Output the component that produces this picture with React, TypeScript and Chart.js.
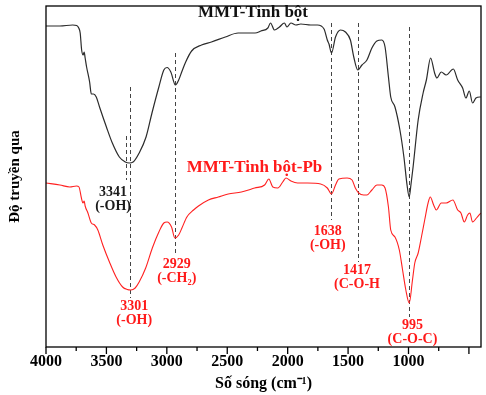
import React, { useEffect, useRef } from "react";
import { Chart, registerables } from "chart.js";

Chart.register(...registerables);

// ---------- DATA (wavenumber cm^-1, transmittance a.u.) ----------
const BLACK_WN = [4000, 3885, 3779, 3746, 3729, 3717, 3705, 3693, 3684, 3676, 3664, 3639, 3625, 3607, 3584, 3557, 3500, 3451, 3393, 3344, 3311, 3279, 3229, 3172, 3123, 3066, 3025, 2998, 2967, 2929, 2902, 2877, 2844, 2795, 2713, 2631, 2516, 2410, 2352, 2270, 2221, 2164, 2142, 2109, 2068, 2027, 2006, 1973, 1932, 1891, 1809, 1754, 1699, 1672, 1658, 1637, 1604, 1563, 1522, 1481, 1453, 1420, 1385, 1344, 1303, 1262, 1221, 1194, 1166, 1147, 1112, 1071, 1038, 1012, 994, 980, 962, 920, 879, 852, 817, 784, 765, 729, 688, 629, 593, 552, 525, 497, 470, 442, 410, 402];
const BLACK_T = [321, 321, 322, 321.5, 319, 314, 297, 292, 295, 289, 280, 265, 253, 253, 250, 240, 220, 204, 190, 185, 184, 185, 194, 210, 234, 260, 277, 279.5, 275, 262, 267, 275, 285, 296, 302, 305, 310, 314, 314, 314, 316, 319, 324, 317, 320, 324, 320, 324, 322, 323, 322, 322, 318, 307, 303, 294, 310, 317, 315, 307, 290, 277, 282, 287, 299, 306, 307, 300, 270, 250, 240, 217, 190, 162, 150, 162, 180, 227, 254, 267, 289, 274, 269, 275, 272, 278, 267, 259, 249, 256, 244, 249, 250, 250];

const RED_WN = [4000, 3885, 3803, 3748, 3727, 3707, 3694, 3684, 3676, 3653, 3625, 3598, 3571, 3530, 3475, 3420, 3366, 3328, 3298, 3262, 3229, 3175, 3120, 3066, 3025, 2998, 2961, 2934, 2902, 2875, 2834, 2779, 2738, 2656, 2574, 2492, 2383, 2273, 2191, 2156, 2123, 2082, 2041, 2014, 1973, 1918, 1836, 1727, 1672, 1637, 1604, 1576, 1508, 1467, 1440, 1412, 1371, 1344, 1303, 1262, 1221, 1194, 1166, 1147, 1112, 1076, 1049, 1022, 994, 967, 948, 920, 893, 866, 838, 820, 792, 770, 729, 688, 633, 593, 566, 538, 511, 492, 470, 437, 402];
const RED_T = [164, 162, 160, 161, 160, 149, 144, 146, 141, 134, 124, 122, 117, 102, 85, 70, 60, 57.5, 57, 59, 65, 79, 99, 115, 124, 125, 120, 109, 112, 119, 130, 137, 141, 147, 150, 153, 155, 159, 162, 168, 160, 159, 165, 169, 166, 164, 164, 163, 159, 153, 162, 168, 169, 167, 159, 154, 152, 152, 157, 162, 162, 159, 140, 117, 110, 97, 77, 57, 44, 67, 84, 94, 110, 127, 144, 150, 142, 137, 144, 144, 147, 137, 134, 125, 132, 134, 125, 129, 134];

const SERIES_NAMES = ["MMT-Tinh bột", "MMT-Tinh bột-Pb"];
const SERIES_COLORS = ["#2b2b2b", "#ff2020"];
const SERIES_LABEL_WN = [2287, 2275];
const SERIES_LABEL_T = [334.5, 179.5];

// Peak marker lines
const PEAK_WN = [3341, 3301, 2929, 1638, 1417, 995];
const PEAK_TOP = [211, 260, 294, 324, 324, 320];
const PEAK_BOTTOM = [167, 49, 91, 127, 85, 30];

// Peak annotations
const PEAK_TEXT = [
  ["3341", "(-OH)"],
  ["3301", "(-OH)"],
  ["2929", "(-CH₂)"],
  ["1638", "(-OH)"],
  ["1417", "(C-O-H"],
  ["995", "(C-O-C)"],
];
const PEAK_TEXT_WN = [3445, 3270, 2918, 1668, 1426, 967];
const PEAK_TEXT_T = [155, 41, 83, 116, 77, 22];
const PEAK_TEXT_COLOR = ["#1a1a1a", "#ff1a1a", "#ff1a1a", "#ff1a1a", "#ff1a1a", "#ff1a1a"];

const X_MIN = 400;
const X_MAX = 4000;
const Y_MIN = 0;
const Y_MAX = 341;

const X_TITLE = "Số sóng (cm⁻¹)";
const Y_TITLE = "Độ truyền qua";

const SERIF = "'Liberation Serif', 'Times New Roman', serif";

const annotPlugin = {
  id: "ftirAnnot",
  beforeDatasetsDraw(chart: any) {
    const { ctx, scales } = chart;
    const x = scales.x;
    const y = scales.y;
    ctx.save();
    ctx.setLineDash([4, 3]);
    ctx.strokeStyle = "#444";
    ctx.lineWidth = 1;
    PEAK_WN.forEach((wn, i) => {
      const px = Math.round(x.getPixelForValue(wn)) + 0.5;
      ctx.beginPath();
      ctx.moveTo(px, y.getPixelForValue(PEAK_TOP[i]));
      ctx.lineTo(px, y.getPixelForValue(PEAK_BOTTOM[i]));
      ctx.stroke();
    });
    ctx.restore();
  },
  afterDatasetsDraw(chart: any) {
    const { ctx, scales, chartArea } = chart;
    const x = scales.x;
    const y = scales.y;
    ctx.save();
    // frame
    ctx.strokeStyle = "#000";
    ctx.lineWidth = 1.3;
    ctx.strokeRect(chartArea.left, chartArea.top, chartArea.right - chartArea.left, chartArea.bottom - chartArea.top);
    // x tick marks (outside)
    ctx.lineWidth = 1.3;
    for (let v = 500; v <= X_MAX; v += 250) {
      const px = x.getPixelForValue(v);
      const len = v % 500 === 0 ? 7 : 4;
      ctx.beginPath();
      ctx.moveTo(px, chartArea.bottom);
      ctx.lineTo(px, chartArea.bottom + len);
      ctx.stroke();
    }
    // series names
    ctx.textAlign = "center";
    ctx.textBaseline = "middle";
    ctx.font = `bold 17px ${SERIF}`;
    SERIES_NAMES.forEach((name, i) => {
      ctx.fillStyle = i === 0 ? "#111" : "#ff1a1a";
      ctx.fillText(name, x.getPixelForValue(SERIES_LABEL_WN[i]), y.getPixelForValue(SERIES_LABEL_T[i]));
    });
    // peak labels
    ctx.font = `bold 14px ${SERIF}`;
    PEAK_TEXT.forEach((lines, i) => {
      ctx.fillStyle = PEAK_TEXT_COLOR[i];
      const cx = x.getPixelForValue(PEAK_TEXT_WN[i]);
      const cy = y.getPixelForValue(PEAK_TEXT_T[i]);
      lines.forEach((t, j) => ctx.fillText(t, cx, cy + j * 14.5));
    });
    ctx.restore();
  },
};

export default function App() {
  const ref = useRef<HTMLCanvasElement>(null);
  useEffect(() => {
    if (!ref.current) return;
    const chart = new Chart(ref.current, {
      type: "line",
      data: {
        datasets: [
          {
            label: SERIES_NAMES[0],
            data: BLACK_WN.map((w, i) => ({ x: w, y: BLACK_T[i] })),
            borderColor: SERIES_COLORS[0],
            borderWidth: 1.2,
            pointRadius: 0,
            cubicInterpolationMode: "monotone",
          },
          {
            label: SERIES_NAMES[1],
            data: RED_WN.map((w, i) => ({ x: w, y: RED_T[i] })),
            borderColor: SERIES_COLORS[1],
            borderWidth: 1.1,
            pointRadius: 0,
            cubicInterpolationMode: "monotone",
          },
        ],
      },
      options: {
        responsive: false,
        animation: false,
        layout: { padding: { top: 6, right: 1, left: 0, bottom: 0 } },
        plugins: { legend: { display: false }, tooltip: { enabled: false } },
        scales: {
          x: {
            type: "linear",
            reverse: true,
            min: X_MIN,
            max: X_MAX,
            grid: { display: false, drawTicks: false },
            border: { display: false },
            ticks: {
              stepSize: 250,
              autoSkip: false,
              maxRotation: 0,
              padding: 5,
              color: "#000",
              font: { family: SERIF, size: 16, weight: "bold" },
              callback: (v: any) => (Number(v) % 500 === 0 ? String(v) : ""),
            },
            title: {
              display: true,
              text: X_TITLE,
              color: "#000",
              padding: { top: 0, bottom: 2 },
              font: { family: SERIF, size: 16, weight: "bold" },
            },
            afterFit: (s: any) => {
              s.height = 48;
            },
          },
          y: {
            type: "linear",
            min: Y_MIN,
            max: Y_MAX,
            grid: { display: false, drawTicks: false },
            border: { display: false },
            ticks: { display: false },
            title: {
              display: true,
              text: Y_TITLE,
              color: "#000",
              padding: { top: 6, bottom: 0 },
              font: { family: SERIF, size: 15, weight: "bold" },
            },
            afterFit: (s: any) => {
              s.width = 46;
            },
          },
        },
      },
      plugins: [annotPlugin],
    });
    return () => chart.destroy();
  }, []);
  return (
    <div style={{ position: "fixed", left: 0, top: 0, width: 486, height: 395, background: "#fff" }}>
      <canvas ref={ref} width={486} height={395} />
    </div>
  );
}
